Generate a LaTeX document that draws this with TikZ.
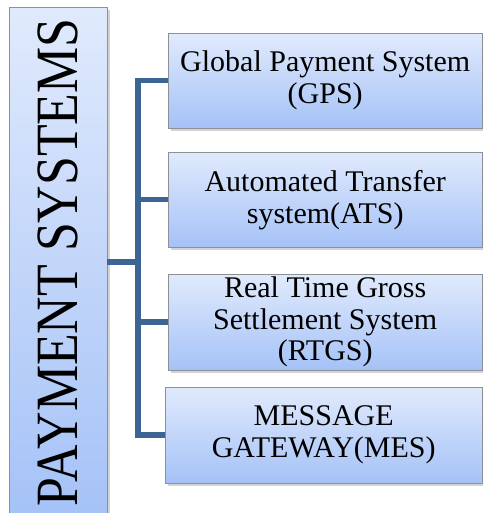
\documentclass[tikz,border=0pt]{standalone}
\usepackage{fontspec}
\setmainfont{Liberation Serif}
\usetikzlibrary{positioning,shadows}
\definecolor{boxtop}{HTML}{E0EAFC}
\definecolor{boxbot}{HTML}{A5C2F7}
\definecolor{boxedge}{HTML}{8C9097}
\definecolor{linkblue}{HTML}{3D6594}

\begin{document}
\begin{tikzpicture}[x=1pt,y=-1pt,
  sysbox/.style={draw=boxedge,top color=boxtop,bottom color=boxbot,
    minimum width=314pt,minimum height=95pt,inner sep=0pt,align=center,
    font=\fontsize{30}{32}\selectfont,
    drop shadow={shadow xshift=2.5pt,shadow yshift=-2.5pt,opacity=0.35}},
  link/.style={draw=linkblue,line width=5.5pt}]
\clip (0,0) rectangle (483,513);
\node[sysbox,anchor=north west,minimum width=98pt,minimum height=510pt] (ps) at (9,7)
  {\rotatebox{90}{\scalebox{0.865}[1]{\fontsize{60}{60}\selectfont PAYMENT SYSTEMS}}};
\node[sysbox,anchor=north west] (gps) at (168,33) {Global Payment System\\(GPS)};
\node[sysbox,anchor=north west] (ats) at (168,152) {Automated Transfer\\system(ATS)};
\node[sysbox,anchor=north west,minimum height=96pt,font=\fontsize{30}{31.5}\selectfont] (rtgs) at (168,274)
  {Real Time Gross\\Settlement System\\(RTGS)};
\node[sysbox,anchor=north west,minimum width=317pt,minimum height=96pt] (mes) at (165,387)
  {MESSAGE\\GATEWAY(MES)};
\coordinate (hub) at (138,262);

\draw[link] (ps.east |- hub) -- (hub);
\draw[link] (gps.west) -| (hub);
\draw[link] (ats.west) -| (hub);
\draw[link] (rtgs.west) -| (hub);
\draw[link] (mes.west) -| (hub);
\end{tikzpicture}
\end{document}
